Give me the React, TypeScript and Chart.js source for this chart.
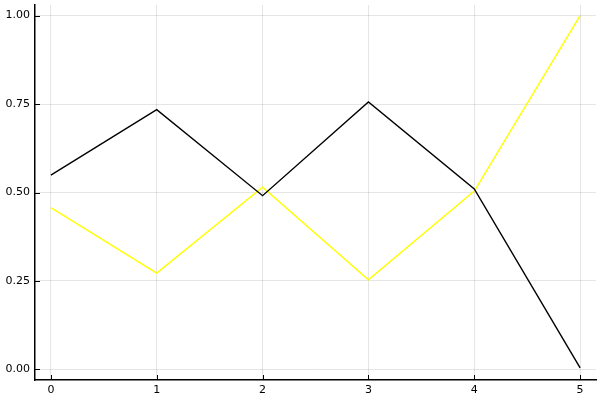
import React, { useEffect, useRef } from "react";
import { Chart, registerables } from "chart.js";

Chart.register(...registerables);

const xValues = [0, 1, 2, 3, 4, 5];
const blackSeries = [0.549, 0.734, 0.491, 0.756, 0.51, 0.004];
const yellowSeries = [0.457, 0.272, 0.515, 0.253, 0.504, 1.0];
const yTicks = [0, 0.25, 0.5, 0.75, 1.0];
const xTicks = [0, 1, 2, 3, 4, 5];

const innerTicks = {
  id: "innerTicks",
  afterDatasetsDraw(chart: any) {
    const { ctx, chartArea, scales } = chart;
    ctx.save();
    ctx.strokeStyle = "#000";
    ctx.lineWidth = 1;
    const len = 5;
    scales.y.ticks.forEach((t: any) => {
      const p = Math.round(scales.y.getPixelForValue(t.value)) + 0.5;
      ctx.beginPath();
      ctx.moveTo(chartArea.left, p);
      ctx.lineTo(chartArea.left + len, p);
      ctx.stroke();
    });
    scales.x.ticks.forEach((t: any) => {
      const p = Math.round(scales.x.getPixelForValue(t.value)) + 0.5;
      ctx.beginPath();
      ctx.moveTo(p, chartArea.bottom);
      ctx.lineTo(p, chartArea.bottom - len);
      ctx.stroke();
    });
    ctx.restore();
  },
};

export default function App() {
  const ref = useRef<HTMLCanvasElement>(null);
  useEffect(() => {
    if (!ref.current) return;
    const chart = new Chart(ref.current, {
      type: "line",
      data: {
        datasets: [
          {
            data: xValues.map((x, i) => ({ x, y: blackSeries[i] })),
            borderColor: "#000000",
            borderWidth: 1.4,
            pointRadius: 0,
            tension: 0,
          },
          {
            data: xValues.map((x, i) => ({ x, y: yellowSeries[i] })),
            borderColor: "#ffff00",
            borderWidth: 1.4,
            pointRadius: 0,
            tension: 0,
          },
        ],
      },
      options: {
        animation: false,
        responsive: false,
        layout: { padding: { top: 5, right: 4, left: 0, bottom: 0 } },
        plugins: { legend: { display: false }, tooltip: { enabled: false } },
        scales: {
          x: {
            type: "linear",
            min: -0.15,
            max: 5.15,
            afterBuildTicks: (s: any) => {
              s.ticks = xTicks.map((v) => ({ value: v }));
            },
            afterFit: (s: any) => {
              s.height = 20;
              s.paddingLeft = 0;
              s.paddingRight = 0;
            },
            grid: { color: "rgba(0,0,0,0.1)", drawTicks: false },
            border: { display: true, color: "#000", width: 1.5 },
            ticks: {
              color: "#000",
              padding: 4,
              font: { family: "DejaVu Sans", size: 11 },
              callback: (v: any) => String(v),
            },
          },
          y: {
            type: "linear",
            min: -0.03,
            max: 1.03,
            afterBuildTicks: (s: any) => {
              s.ticks = yTicks.map((v) => ({ value: v }));
            },
            afterFit: (s: any) => {
              s.width = 35;
              s.paddingTop = 0;
              s.paddingBottom = 0;
            },
            grid: { color: "rgba(0,0,0,0.1)", drawTicks: false },
            border: { display: true, color: "#000", width: 1.5 },
            ticks: {
              color: "#000",
              padding: 5,
              font: { family: "DejaVu Sans", size: 11 },
              callback: (v: any) => Number(v).toFixed(2),
            },
          },
        },
      },
      plugins: [innerTicks],
    });
    return () => chart.destroy();
  }, []);
  return (
    <div style={{ position: "fixed", left: 0, top: 0, width: 600, height: 400, background: "#fff" }}>
      <canvas ref={ref} width={600} height={400} />
    </div>
  );
}
